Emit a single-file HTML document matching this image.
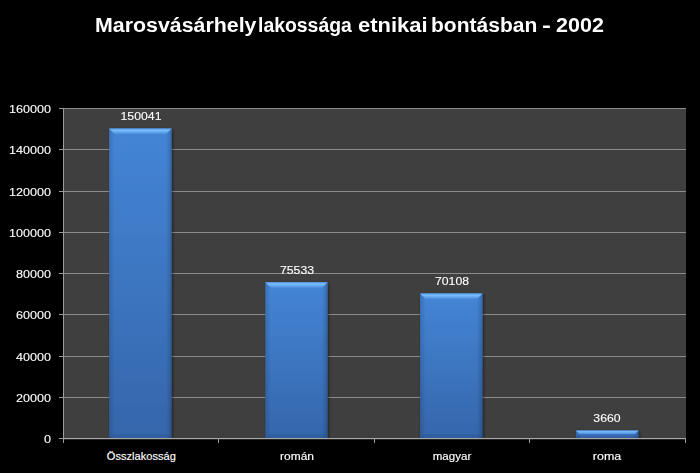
<!DOCTYPE html>
<html><head><meta charset="utf-8"><title>Chart</title>
<style>
html,body{margin:0;padding:0;background:#000;}
body{width:700px;height:473px;position:relative;overflow:hidden;font-family:"Liberation Sans",sans-serif;color:#fff;}
svg{position:absolute;left:0;top:0;}
.t{position:absolute;white-space:nowrap;line-height:1;}
.title{left:-1px;width:700px;text-align:center;top:14.5px;font-size:20.3px;font-weight:bold;transform:scaleX(1.023);transform-origin:50% 50%;}
.tw{top:14.5px;font-size:20.3px;font-weight:bold;transform-origin:0 50%;}
.yl{-webkit-text-stroke:0.1px #fff;font-size:10.5px;text-align:right;width:52px;left:-0.6px;transform:scaleX(1.2);transform-origin:100% 50%;}
.xl{-webkit-text-stroke:0.15px #fff;font-size:11px;text-align:center;width:120px;letter-spacing:0.05px;transform-origin:50% 50%;}
.dl{-webkit-text-stroke:0.1px #fff;font-size:10.5px;text-align:center;width:80px;transform:scaleX(1.17);transform-origin:50% 50%;}
</style></head><body>

<svg width="700" height="473" viewBox="0 0 700 473">
<defs>
<linearGradient id="bg" x1="0" y1="0" x2="0" y2="1"><stop offset="0" stop-color="#4485d6"/><stop offset="1" stop-color="#3566ab"/></linearGradient>
<linearGradient id="tg" x1="0" y1="0" x2="0" y2="1"><stop offset="0" stop-color="#5fa6f0"/><stop offset="0.35" stop-color="#78bbfb"/><stop offset="0.7" stop-color="#5c9fe9"/><stop offset="1" stop-color="#4586d7"/></linearGradient>
<linearGradient id="lsh" x1="0" y1="0" x2="1" y2="0"><stop offset="0" stop-color="#000" stop-opacity="0.13"/><stop offset="0.5" stop-color="#000" stop-opacity="0.07"/><stop offset="1" stop-color="#000" stop-opacity="0"/></linearGradient>
<linearGradient id="rsh" x1="0" y1="0" x2="1" y2="0"><stop offset="0" stop-color="#000" stop-opacity="0"/><stop offset="0.6" stop-color="#000" stop-opacity="0.10"/><stop offset="1" stop-color="#000" stop-opacity="0.22"/></linearGradient>
<filter id="sh" x="-20%" y="-20%" width="140%" height="140%"><feGaussianBlur in="SourceAlpha" stdDeviation="1.5" result="b"/><feOffset dx="0.5" dy="0.5" in="b" result="o"/><feComponentTransfer in="o" result="s"><feFuncA type="linear" slope="0.55"/></feComponentTransfer><feMerge><feMergeNode in="s"/><feMergeNode in="SourceGraphic"/></feMerge></filter>
</defs>
<rect x="63" y="108" width="623" height="330" fill="#3f3f3f"/>
<rect x="63" y="108" width="623" height="1" fill="#8b8b8b"/>
<rect x="63" y="149" width="623" height="1" fill="#8b8b8b"/>
<rect x="63" y="191" width="623" height="1" fill="#8b8b8b"/>
<rect x="63" y="232" width="623" height="1" fill="#8b8b8b"/>
<rect x="63" y="273" width="623" height="1" fill="#8b8b8b"/>
<rect x="63" y="314" width="623" height="1" fill="#8b8b8b"/>
<rect x="63" y="356" width="623" height="1" fill="#8b8b8b"/>
<rect x="63" y="397" width="623" height="1" fill="#8b8b8b"/>
<g filter="url(#sh)"><rect x="109.10" y="128.54" width="62.50" height="309.46" fill="url(#bg)"/></g>
<rect x="109.10" y="128.54" width="5.5" height="309.46" fill="url(#lsh)"/>
<rect x="165.60" y="128.54" width="6" height="309.46" fill="url(#rsh)"/>
<polygon points="109.10,438 171.60,438 167.60,434.00 113.10,434.00" fill="#000" fill-opacity="0.06"/>
<polygon points="109.10,128.54 171.60,128.54 165.60,134.54 115.10,134.54" fill="url(#tg)"/>
<g filter="url(#sh)"><rect x="265.30" y="282.21" width="62.30" height="155.79" fill="url(#bg)"/></g>
<rect x="265.30" y="282.21" width="5.5" height="155.79" fill="url(#lsh)"/>
<rect x="321.60" y="282.21" width="6" height="155.79" fill="url(#rsh)"/>
<polygon points="265.30,438 327.60,438 323.60,434.00 269.30,434.00" fill="#000" fill-opacity="0.06"/>
<polygon points="265.30,282.21 327.60,282.21 321.60,288.21 271.30,288.21" fill="url(#tg)"/>
<g filter="url(#sh)"><rect x="420.10" y="293.40" width="62.40" height="144.60" fill="url(#bg)"/></g>
<rect x="420.10" y="293.40" width="5.5" height="144.60" fill="url(#lsh)"/>
<rect x="476.50" y="293.40" width="6" height="144.60" fill="url(#rsh)"/>
<polygon points="420.10,438 482.50,438 478.50,434.00 424.10,434.00" fill="#000" fill-opacity="0.06"/>
<polygon points="420.10,293.40 482.50,293.40 476.50,299.40 426.10,299.40" fill="url(#tg)"/>
<g filter="url(#sh)"><rect x="576.00" y="430.45" width="62.40" height="7.55" fill="url(#bg)"/></g>
<rect x="576.00" y="430.45" width="5.5" height="7.55" fill="url(#lsh)"/>
<rect x="632.40" y="430.45" width="6" height="7.55" fill="url(#rsh)"/>
<polygon points="576.00,438 638.40,438 634.63,434.23 579.77,434.23" fill="#000" fill-opacity="0.06"/>
<polygon points="576.00,430.45 638.40,430.45 634.63,434.23 579.77,434.23" fill="url(#tg)"/>
<rect x="63" y="108" width="1" height="331" fill="#9a9a9a"/>
<rect x="59" y="438" width="627" height="1" fill="#a8a8a8"/>
<rect x="63" y="439" width="623" height="1" fill="#a8a8a8" fill-opacity="0.22"/>
<rect x="59" y="108" width="4" height="1" fill="#9a9a9a"/>
<rect x="59" y="149" width="4" height="1" fill="#9a9a9a"/>
<rect x="59" y="191" width="4" height="1" fill="#9a9a9a"/>
<rect x="59" y="232" width="4" height="1" fill="#9a9a9a"/>
<rect x="59" y="273" width="4" height="1" fill="#9a9a9a"/>
<rect x="59" y="314" width="4" height="1" fill="#9a9a9a"/>
<rect x="59" y="356" width="4" height="1" fill="#9a9a9a"/>
<rect x="59" y="397" width="4" height="1" fill="#9a9a9a"/>
<rect x="59" y="438" width="4" height="1" fill="#9a9a9a"/>
<rect x="63" y="438" width="1" height="5" fill="#9a9a9a"/>
<rect x="218" y="438" width="1" height="5" fill="#9a9a9a"/>
<rect x="374" y="438" width="1" height="5" fill="#9a9a9a"/>
<rect x="529" y="438" width="1" height="5" fill="#9a9a9a"/>
<rect x="685" y="438" width="1" height="5" fill="#9a9a9a"/>
</svg>
<div class="t tw" style="left:94.55px;transform:scaleX(1.0533)">Marosvásárhely</div>
<div class="t tw" style="left:258.34px;transform:scaleX(0.9567)">lakossága</div>
<div class="t tw" style="left:357.52px;transform:scaleX(1.0823)">etnikai</div>
<div class="t tw" style="left:431.36px;transform:scaleX(1.0366)">bontásban</div>
<div class="t tw" style="left:542.08px;transform:scaleX(1.32)">-</div>
<div class="t tw" style="left:555.54px;transform:scaleX(1.0605)">2002</div>
<div class="t yl" style="top:103.5px">160000</div>
<div class="t yl" style="top:144.5px">140000</div>
<div class="t yl" style="top:186.5px">120000</div>
<div class="t yl" style="top:227.5px">100000</div>
<div class="t yl" style="top:268.5px">80000</div>
<div class="t yl" style="top:309.5px">60000</div>
<div class="t yl" style="top:351.5px">40000</div>
<div class="t yl" style="top:392.5px">20000</div>
<div class="t yl" style="top:433.5px">0</div>
<div class="t xl" style="left:81.4px;top:450.5px;transform:scaleX(1.0)">Összlakosság</div>
<div class="t xl" style="left:236.6px;top:450.5px;transform:scaleX(1.085)">román</div>
<div class="t xl" style="left:392.1px;top:450.5px;transform:scaleX(1.045)">magyar</div>
<div class="t xl" style="left:547.1px;top:450.5px;transform:scaleX(1.13)">roma</div>
<div class="t dl" style="left:100.8px;top:110.5px">150041</div>
<div class="t dl" style="left:256.6px;top:264.7px">75533</div>
<div class="t dl" style="left:411.6px;top:275.9px">70108</div>
<div class="t dl" style="left:566.5px;top:412.5px">3660</div>
</body></html>
